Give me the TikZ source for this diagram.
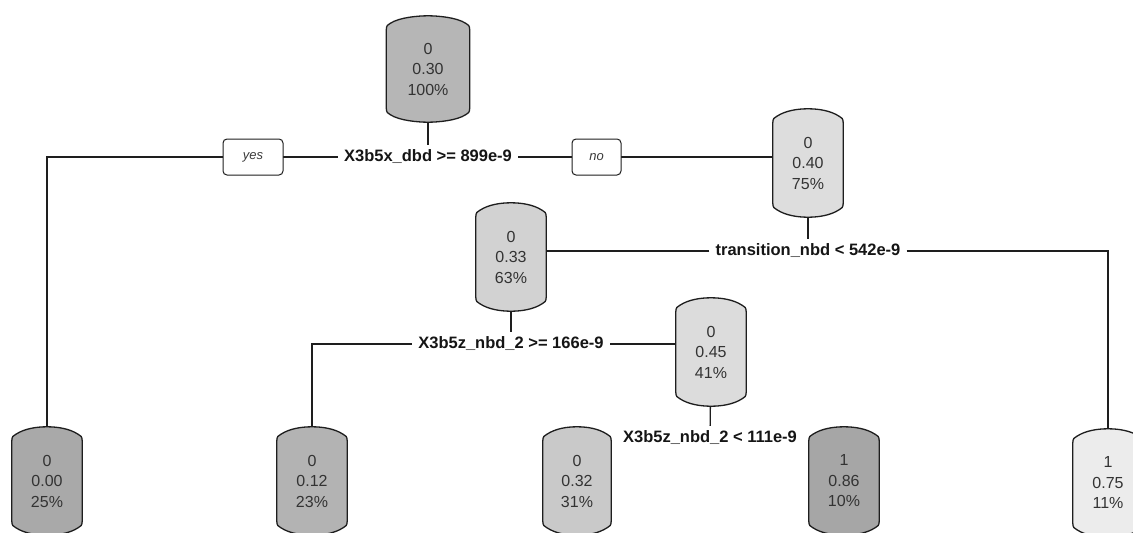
\documentclass[tikz,border=0pt]{standalone}
\usepackage{fontspec}
\setmainfont{Liberation Sans}
\usetikzlibrary{calc}

\pgfdeclarelayer{edges}
\pgfdeclarelayer{shapes}
\pgfsetlayers{edges,shapes,main}

\definecolor{edgecol}{HTML}{1E1E1E}
\definecolor{nodetext}{HTML}{333333}
\definecolor{labeltext}{HTML}{151515}
\definecolor{answertext}{HTML}{3A3A3A}
\definecolor{gA}{HTML}{B6B6B6}
\definecolor{gB}{HTML}{DDDDDD}
\definecolor{gC}{HTML}{D2D2D2}
\definecolor{gD}{HTML}{DCDCDC}
\definecolor{gE}{HTML}{A9A9A9}
\definecolor{gF}{HTML}{B3B3B3}
\definecolor{gG}{HTML}{C9C9C9}
\definecolor{gH}{HTML}{A6A6A6}
\definecolor{gI}{HTML}{ECECEC}

% barrel-shaped outline (bulging top and bottom) behind a named node
\newcommand\barrelbox[2]{%
  \begin{pgfonlayer}{shapes}
  \path[barrelline, fill=#2] let \p1=(#1.south west), \p2=(#1.north east), \p3=(#1.center) in
    (\x1,\y1+14pt) -- (\x1,\y2-14pt)
    .. controls (\x1,\y2-10pt) and (\x1+1.5pt,\y2-8.5pt) .. (\x1+4pt,\y2-7.5pt)
    .. controls (\x1+13pt,\y2-1.6pt) and (\x3-10pt,\y2) .. (\x3,\y2)
    .. controls (\x3+10pt,\y2) and (\x2-13pt,\y2-1.6pt) .. (\x2-4pt,\y2-7.5pt)
    .. controls (\x2-1.5pt,\y2-8.5pt) and (\x2,\y2-10pt) .. (\x2,\y2-14pt)
    -- (\x2,\y1+14pt)
    .. controls (\x2,\y1+10pt) and (\x2-1.5pt,\y1+8.5pt) .. (\x2-4pt,\y1+7.5pt)
    .. controls (\x2-13pt,\y1+1.6pt) and (\x3+10pt,\y1) .. (\x3,\y1)
    .. controls (\x3-10pt,\y1) and (\x1+13pt,\y1+1.6pt) .. (\x1+4pt,\y1+7.5pt)
    .. controls (\x1+1.5pt,\y1+8.5pt) and (\x1,\y1+10pt) .. cycle;
  \end{pgfonlayer}}

\begin{document}
\begin{tikzpicture}[x=1pt, y=-1pt,
  tnode/.style={minimum width=70pt, minimum height=108pt, inner sep=0pt,
    align=center, text=nodetext, font=\fontsize{16}{20.5}\selectfont},
  split/.style={fill=white, inner xsep=6pt, inner ysep=4pt, text height=12pt,
    text depth=3.5pt, text=labeltext, font=\bfseries\fontsize{16.5}{19}\selectfont},
  answer/.style={draw=edgecol, line width=1pt, rounded corners=4pt, fill=white,
    minimum height=36pt, inner sep=0pt, text=answertext,
    font=\itshape\fontsize{13}{15}\selectfont},
  conn/.style={draw=edgecol, line width=1.3pt},
  barrelline/.style={draw=edgecol, line width=1.3pt}]

\useasboundingbox (0,0) rectangle (1133,533);

% tree nodes
\node[tnode, minimum width=83pt, minimum height=106pt] (root) at (428,69) {0\\0.30\\100\%};
\node[tnode] (n040) at (808,163) {0\\0.40\\75\%};
\node[tnode] (n033) at (511,257) {0\\0.33\\63\%};
\node[tnode] (n045) at (711,352) {0\\0.45\\41\%};
\node[tnode] (l000) at (47,481) {0\\0.00\\25\%};
\node[tnode] (l012) at (312,481) {0\\0.12\\23\%};
\node[tnode, minimum width=68pt] (l032) at (577,481) {0\\0.32\\31\%};
\node[tnode] (l086) at (844,481) {1\\0.86\\10\%};
\node[tnode] (l075) at (1108,483) {1\\0.75\\11\%};

\barrelbox{root}{gA}
\barrelbox{n040}{gB}
\barrelbox{n033}{gC}
\barrelbox{n045}{gD}
\barrelbox{l000}{gE}
\barrelbox{l012}{gF}
\barrelbox{l032}{gG}
\barrelbox{l086}{gH}
\barrelbox{l075}{gI}

% split labels
\node[split] (s1) at (428,157) {X3b5x\_dbd >= 899e-9};
\node[split] (s2) at (808,251) {transition\_nbd < 542e-9};
\node[split] (s3) at (511,344) {X3b5z\_nbd\_2 >= 166e-9};
\node[split, inner xsep=10.2pt] (s4) at (710,438) {X3b5z\_nbd\_2 < 111e-9};

% branch answers
\node[answer, minimum width=60pt] (yes) at (253,157) {yes};
\node[answer, minimum width=49pt] (no) at (596.5,157) {no};

% connectors
\begin{pgfonlayer}{edges}
\draw[conn] (root) -- (s1);
\draw[conn] (s1) -| (l000);
\draw[conn] (s1) -| (n040);
\draw[conn] (n040) -- (s2);
\draw[conn] (s2) -| (n033);
\draw[conn] (s2) -| (l075);
\draw[conn] (n033) -- (s3);
\draw[conn] (s3) -| (l012);
\draw[conn] (s3) -| (n045);
\draw[conn] (n045) -- (s4);
\draw[conn, shorten <=3pt] (s4) -| (l032);
\draw[conn, shorten <=3pt] (s4) -| (l086);
\end{pgfonlayer}
\end{tikzpicture}
\end{document}
